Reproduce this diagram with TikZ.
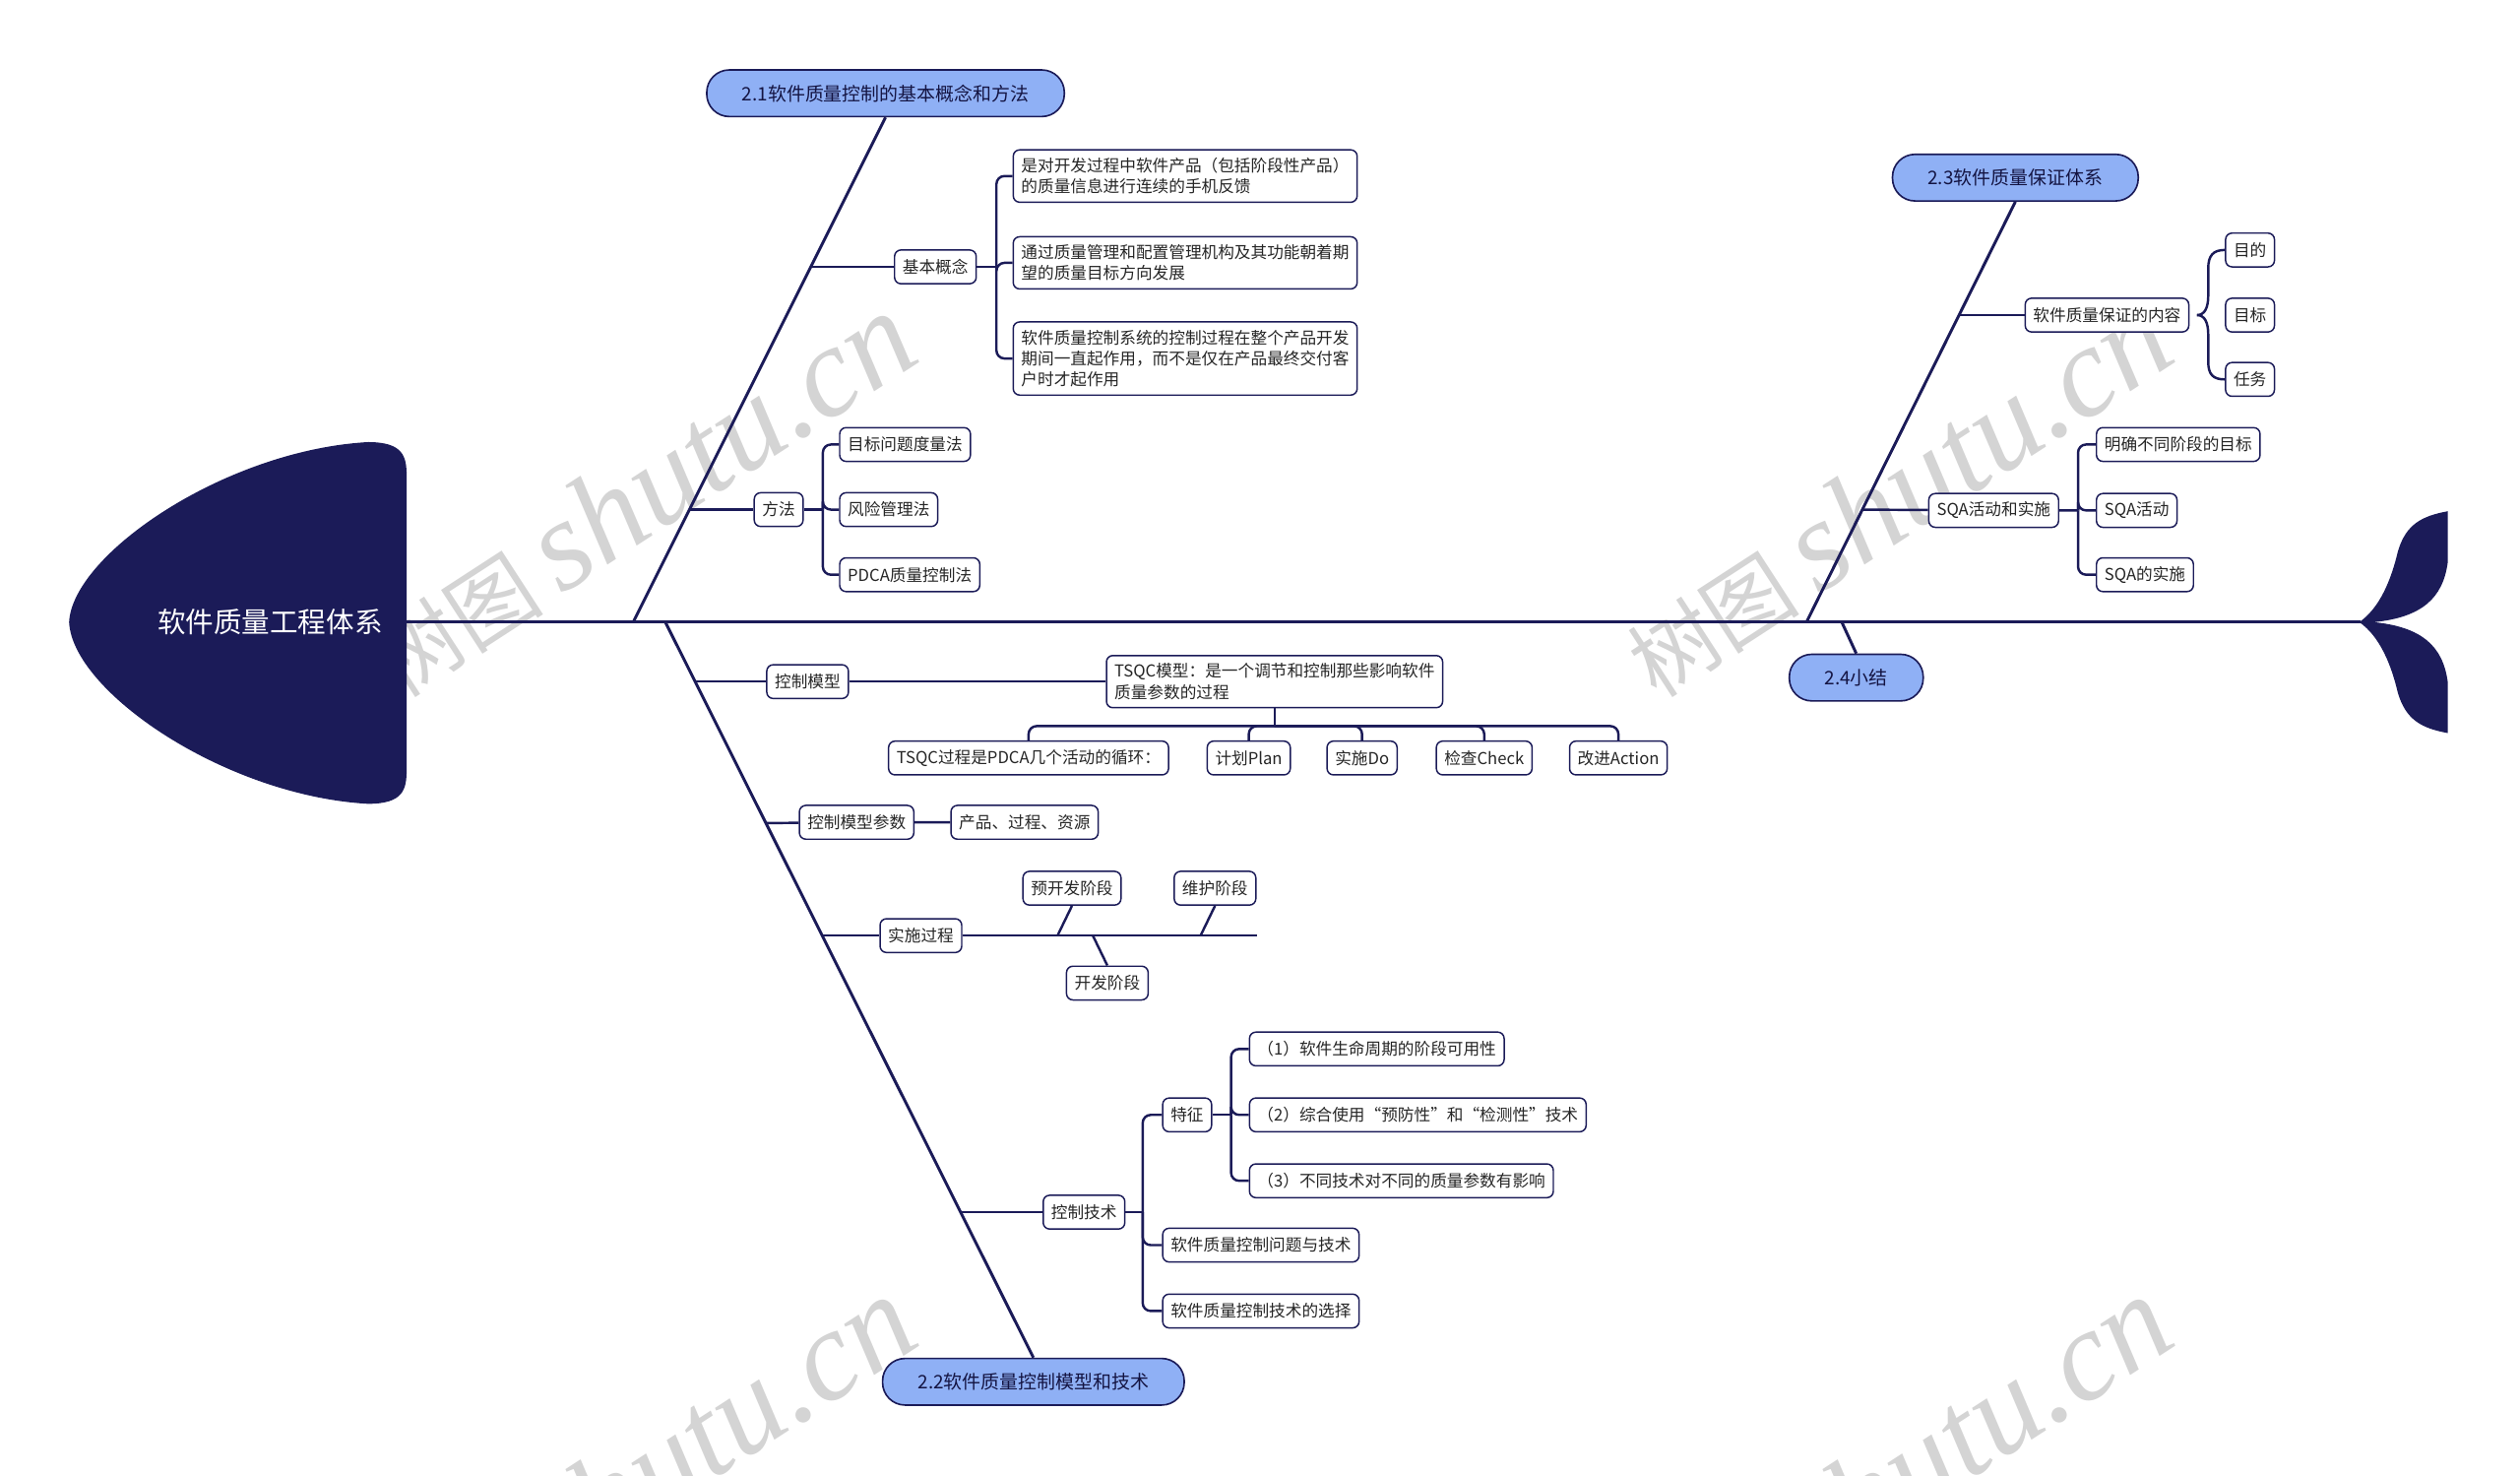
\documentclass[tikz,border=0pt]{standalone}
\usepackage{fontspec}
\setmainfont{Noto Sans CJK SC}
\newfontfamily\wmfont{Liberation Serif}
\usepackage{tikz}

\definecolor{navy}{RGB}{27,27,88}
\definecolor{topicblue}{RGB}{143,176,245}

\tikzset{
  bone/.style={draw=navy, line width=1.8pt},
  link/.style={draw=navy, line width=1.5pt},
  topic/.style={draw=navy, line width=1pt, fill=topicblue, rounded corners=14pt,
    minimum height=29pt, inner xsep=22pt, text=navy!75!black, font=\fontsize{11.6}{13}\selectfont},
  leaf/.style={draw=navy, line width=0.9pt, fill=white, rounded corners=4pt,
    minimum height=21pt, inner xsep=5pt, inner ysep=0pt, text=black!85, font=\fontsize{10.2}{13}\selectfont},
  note/.style={leaf, align=left, inner ysep=5pt},
  wmark/.style={text=black!17, rotate=33, font=\fontsize{54}{60}\selectfont}
}

\begin{document}
\begin{tikzpicture}[x=1pt,y=-1pt]
  \useasboundingbox (0,0) rectangle (1568,918.1);

  % watermark
  \begin{scope}
    \clip (0,0) rectangle (1568,918.1);
    \foreach \wx/\wy in {398/308,1180/308,398/920,1180/920}
      \node[wmark] (wm-\wx-\wy) at (\wx,\wy) {树图 {\wmfont\itshape\fontsize{80}{90}\selectfont shutu.cn}};
  \end{scope}

  % head and tail
  \fill[navy] (229,275) .. controls (251,275) and (253,284) .. (253,296) -- (253,479)
    .. controls (253,491) and (251,500) .. (229,500) .. controls (140,495) and (45,430) .. (43,387)
    .. controls (45,345) and (140,280) .. (229,275) -- cycle;
  \node[text=white, font=\fontsize{17.5}{20}\selectfont] (head) at (168,387) {软件质量工程体系};
  \fill[navy] (1468,387) .. controls (1481,378) and (1488,360) .. (1492,343)
    .. controls (1497,326) and (1507,321) .. (1523,318) -- (1523,350)
    .. controls (1520,372) and (1507,384) .. (1477,387)
    .. controls (1507,390) and (1520,402) .. (1523,424) -- (1523,456)
    .. controls (1507,453) and (1497,448) .. (1492,431)
    .. controls (1488,414) and (1481,396) .. (1468,387) -- cycle;

  \coordinate (spineL) at (253,387);
  \coordinate (spineR) at (1469,387);
  \draw[bone] (spineL) -- (spineR);

  % 2.1
  \node[topic] (t21) at (551,58) {2.1软件质量控制的基本概念和方法};
  \coordinate (b21) at (394,387);
  \draw[bone] (b21) -- (t21.south);

  \coordinate (j1) at (504,166);
  \node[leaf] (k1) at (582,166) {基本概念};
  \coordinate (k1r) at (620,166);
  \node[note, anchor=west] (k1a) at (630,109.5) {是对开发过程中软件产品（包括阶段性产品）\\的质量信息进行连续的手机反馈};
  \node[note, anchor=west] (k1b) at (630,163.5) {通过质量管理和配置管理机构及其功能朝着期\\望的质量目标方向发展};
  \node[note, anchor=west] (k1c) at (630,223) {软件质量控制系统的控制过程在整个产品开发\\期间一直起作用，而不是仅在产品最终交付客\\户时才起作用};
  \draw[link] (j1) -- (k1) -- (k1r);
  \foreach \c in {k1a,k1b,k1c}
    \draw[link, rounded corners=5pt] (k1r) |- (\c.west);

  \coordinate (j2) at (429,317);
  \node[leaf] (k2) at (484.5,317) {方法};
  \coordinate (k2r) at (512,317);
  \node[leaf, anchor=west] (k2a) at (522,276.5) {目标问题度量法};
  \node[leaf, anchor=west] (k2b) at (522,317) {风险管理法};
  \node[leaf, anchor=west] (k2c) at (522,357.5) {PDCA质量控制法};
  \draw[link] (j2) -- (k2) -- (k2r);
  \foreach \c in {k2a,k2b,k2c}
    \draw[link, rounded corners=5pt] (k2r) |- (\c.west);

  % 2.2
  \node[topic] (t22) at (643,859.5) {2.2软件质量控制模型和技术};
  \coordinate (b22) at (414,387);
  \draw[bone] (b22) -- (t22.north);

  \coordinate (j3) at (432,424);
  \node[leaf] (k3) at (502.5,424) {控制模型};
  \node[note, anchor=west] (tq) at (688,424) {TSQC模型：是一个调节和控制那些影响软件\\质量参数的过程};
  \coordinate (tqj) at ([yshift=-11pt]tq.south);
  \node[leaf] (p0) at (640,471.5) {TSQC过程是PDCA几个活动的循环：};
  \node[leaf] (p1) at (777,471.5) {计划Plan};
  \node[leaf] (p2) at (847.5,471.5) {实施Do};
  \node[leaf] (p3) at (923.5,471.5) {检查Check};
  \node[leaf] (p4) at (1007,471.5) {改进Action};
  \draw[link] (j3) -- (k3) -- (tq);
  \draw[link] (tq.south) -- (tqj);
  \foreach \p in {p0,p1,p2,p3,p4}
    \draw[link, rounded corners=5pt] (tqj) -| (\p.north);

  \coordinate (j4) at (476.5,512);
  \node[leaf] (k4) at (533,511.5) {控制模型参数};
  \node[leaf] (k4a) at (637.5,511.5) {产品、过程、资源};
  \draw[link] (j4) -- (k4) -- (k4a);

  \coordinate (j5) at (511,582);
  \node[leaf] (k5) at (573,582) {实施过程};
  \coordinate (k5e) at (782,582);
  \node[leaf] (s1) at (667,552.5) {预开发阶段};
  \node[leaf] (s2) at (756,552.5) {维护阶段};
  \node[leaf] (s3) at (689,611.5) {开发阶段};
  \coordinate (s1j) at (658,582);
  \coordinate (s2j) at (747,582);
  \coordinate (s3j) at (680,582);
  \draw[link] (j5) -- (k5) -- (k5e);
  \draw[link] (s1.south) -- (s1j);
  \draw[link] (s2.south) -- (s2j);
  \draw[link] (s3j) -- (s3.north);

  \coordinate (j6) at (597.5,754);
  \node[leaf] (k6) at (674.5,754) {控制技术};
  \coordinate (k6r) at (711,754);
  \node[leaf, anchor=west] (f1) at (723,693.5) {特征};
  \node[leaf, anchor=west] (q1) at (723,774.5) {软件质量控制问题与技术};
  \node[leaf, anchor=west] (q2) at (723,815.5) {软件质量控制技术的选择};
  \draw[link] (j6) -- (k6) -- (k6r);
  \foreach \c in {f1,q1,q2}
    \draw[link, rounded corners=5pt] (k6r) |- (\c.west);

  \coordinate (fr) at (766,693.5);
  \node[leaf, anchor=west] (g1) at (777,652.5) {（1）软件生命周期的阶段可用性};
  \node[leaf, anchor=west] (g2) at (777,693.5) {（2）综合使用“预防性”和“检测性”技术};
  \node[leaf, anchor=west] (g3) at (777,734.5) {（3）不同技术对不同的质量参数有影响};
  \draw[link] (f1) -- (fr);
  \foreach \c in {g1,g2,g3}
    \draw[link, rounded corners=5pt] (fr) |- (\c.west);

  % 2.3
  \node[topic] (t23) at (1254,110.5) {2.3软件质量保证体系};
  \coordinate (b23) at (1124,387);
  \draw[bone] (b23) -- (t23.south);

  \coordinate (j7) at (1219,196);
  \node[leaf] (k7) at (1311,196) {软件质量保证的内容};
  \node[leaf] (d1) at (1400,155.5) {目的};
  \node[leaf] (d2) at (1400,196) {目标};
  \node[leaf] (d3) at (1400,236) {任务};
  \coordinate (k7b) at (1367,196);
  \draw[link] (j7) -- (k7);
  \draw[link] (k7b) .. controls (1372,196) and (1374,191) .. (1374,184) -- (1374,167)
    .. controls (1374,159) and (1377,155.5) .. (d1.west);
  \draw[link] (k7b) .. controls (1372,196) and (1374,201) .. (1374,208) -- (1374,225)
    .. controls (1374,233) and (1377,236) .. (d3.west);

  \coordinate (j8) at (1159,317);
  \node[leaf] (k8) at (1240.5,317.5) {SQA活动和实施};
  \coordinate (k8r) at (1293,317.5);
  \node[leaf, anchor=west] (e1) at (1304,276.5) {明确不同阶段的目标};
  \node[leaf, anchor=west] (e2) at (1304,317.5) {SQA活动};
  \node[leaf, anchor=west] (e3) at (1304,357.5) {SQA的实施};
  \draw[link] (j8) -- (k8) -- (k8r);
  \foreach \c in {e1,e2,e3}
    \draw[link, rounded corners=5pt] (k8r) |- (\c.west);

  % 2.4
  \node[topic] (t24) at (1155,421.5) {2.4小结};
  \coordinate (b24) at (1146,387);
  \draw[bone] (b24) -- (t24.north);
\end{tikzpicture}
\end{document}
